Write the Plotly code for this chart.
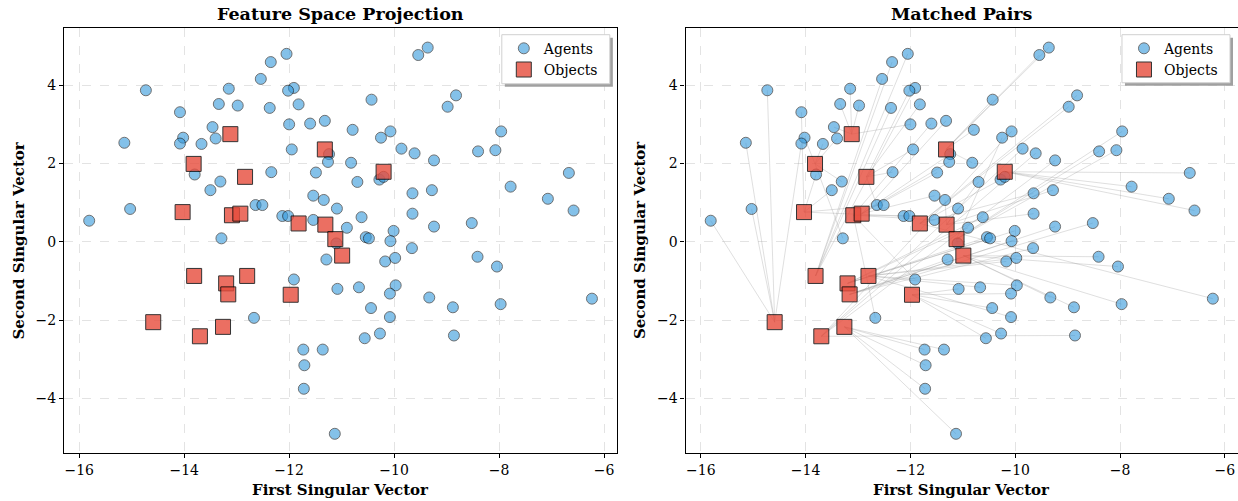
import plotly.graph_objects as go

# ---- data ----
agent_x = [-15.81, -15.14, -15.03, -14.73, -14.08, -14.02, -14.08, -13.67, -13.46, -13.40,
           -13.34, -13.15, -12.98, -13.80, -13.31, -13.50, -13.29, -12.05, -12.35, -12.54,
           -11.91, -12.02, -12.37, -11.82, -12.00, -11.60, -11.32, -10.43, -9.54, -9.36,
           -10.79, -10.25, -10.07, -9.86, -9.61, -9.24, -11.95, -11.24, -11.26, -10.82,
           -12.34, -11.49, -10.70, -10.28, -10.20, -9.65, -9.28, -12.64, -12.51, -11.54,
           -11.34, -11.09, -12.13, -12.02, -11.54, -10.90, -10.62, -10.54, -10.48, -10.01,
           -10.07, -9.65, -9.24, -8.82, -8.98, -7.96, -8.40, -8.07, -7.78, -6.67,
           -7.07, -6.58, -8.52, -12.67, -11.10, -9.66, -11.29, -10.17, -9.98, -11.91,
           -11.08, -10.67, -9.97, -10.08, -9.33, -10.44, -10.08, -10.27, -10.56, -11.73,
           -11.36, -11.71, -11.72, -11.13, -8.41, -8.04, -8.88, -7.97, -6.23, -8.86]
agent_y = [0.54, 2.53, 0.84, 3.87, 3.31, 2.66, 2.51, 2.50, 2.93, 2.64,
           3.52, 3.91, 3.48, 1.72, 1.54, 1.32, 0.09, 4.80, 4.59, 4.16,
           3.93, 3.86, 3.42, 3.51, 3.00, 3.02, 3.09, 3.63, 4.77, 4.96,
           2.86, 2.66, 2.82, 2.38, 2.26, 2.08, 2.36, 2.24, 2.04, 2.02,
           1.78, 1.77, 1.53, 1.59, 1.66, 1.24, 1.32, 0.94, 0.94, 1.18,
           1.07, 0.85, 0.66, 0.66, 0.56, 0.36, 0.63, 0.12, 0.09, 0.28,
           0.02, 0.72, 0.39, 3.74, 3.45, 2.82, 2.31, 2.34, 1.41, 1.76,
           1.10, 0.80, 0.48, -1.94, -0.04, -0.16, -0.45, -0.50, -0.41, -0.96,
           -1.20, -1.16, -1.11, -1.32, -1.42, -1.69, -1.92, -2.34, -2.46, -2.75,
           -2.75, -3.15, -3.75, -4.90, -0.38, -0.63, -1.67, -1.59, -1.45, -2.39]

object_x = [-13.12, -13.82, -12.84, -14.03, -13.09, -12.93, -11.32, -10.20, -11.82, -11.31,
            -11.12, -10.99, -11.97, -13.81, -13.20, -13.16, -12.80, -14.59, -13.26, -13.70]
object_y = [2.75, 1.99, 1.66, 0.76, 0.68, 0.72, 2.36, 1.79, 0.47, 0.44,
            0.07, -0.35, -1.35, -0.87, -1.06, -1.34, -0.87, -2.05, -2.17, -2.41]

# object index matched to each agent (right panel)
match = [17, 17, 17, 17, 3, 1, 17, 1, 0, 1,
         0, 0, 0, 3, 1, 3, 1, 13, 13, 13,
         13, 2, 13, 2, 0, 4, 5, 6, 6, 6,
         6, 10, 19, 19, 19, 19, 2, 5, 5, 6,
         2, 5, 9, 8, 7, 8, 9, 2, 3, 5,
         9, 9, 3, 4, 4, 14, 14, 14, 14, 14,
         15, 9, 15, 8, 8, 10, 10, 10, 7, 7,
         7, 7, 15, 4, 10, 15, 15, 16, 16, 4,
         12, 16, 16, 12, 11, 12, 16, 12, 12, 18,
         18, 18, 18, 18, 11, 11, 11, 11, 8, 19]

x_ticks = [-16, -14, -12, -10, -8, -6]
y_ticks = [-4, -2, 0, 2, 4]
x_range = [-16.29, -5.75]
y_range = [-5.39, 5.46]

FONT = "DejaVu Serif"
AG_COL = "#3498db"
OB_COL = "#e74c3c"

fig = go.Figure()

# matched pair lines (right panel)
lx, ly = [], []
for i, j in enumerate(match):
    lx += [agent_x[i], object_x[j], None]
    ly += [agent_y[i], object_y[j], None]
fig.add_trace(go.Scatter(x=lx, y=ly, mode="lines", xaxis="x2", yaxis="y2",
                         line=dict(color="rgba(150,150,150,0.38)", width=0.8),
                         showlegend=False, hoverinfo="skip"))

for ax, lg in (("", "legend"), ("2", "legend2")):
    fig.add_trace(go.Scatter(x=agent_x, y=agent_y, mode="markers", name="Agents",
                             xaxis="x" + ax, yaxis="y" + ax, legend=lg,
                             marker=dict(symbol="circle", size=11, color=AG_COL, opacity=0.6,
                                         line=dict(color="black", width=0.9))))
    fig.add_trace(go.Scatter(x=object_x, y=object_y, mode="markers", name="Objects",
                             xaxis="x" + ax, yaxis="y" + ax, legend=lg,
                             marker=dict(symbol="square", size=15, color=OB_COL, opacity=0.8,
                                         line=dict(color="black", width=1))))

W, H = 1238, 501
ml, mr, mt, mb = 64.3, 0, 28.3, 48.3
pw = W - ml - mr
ph = H - mt - mb
d1 = [0, 553 / pw]
d2 = [(685.7 - ml) / pw, 1.0]


def px_x(p):
    return (p - ml) / pw


def px_y(p):
    return 1 - (p - mt) / ph


axis_common = dict(
    showline=True, linecolor="black", linewidth=1.2, mirror=True,
    ticks="outside", ticklen=4, tickwidth=1, tickcolor="black",
    showgrid=True, gridcolor="#e3e3e3", griddash="dash", gridwidth=1,
    zeroline=False, automargin=False,
    tickfont=dict(family=FONT, size=14, color="black"),
)

tfont = dict(family=FONT, size=17.5, color="black")
lfont = dict(family=FONT, size=15, color="black")

annotations = []
for dom, title in ((d1, "Feature Space Projection"), (d2, "Matched Pairs")):
    cx = (dom[0] + dom[1]) / 2
    annotations.append(dict(text="<b>%s</b>" % title, x=cx, y=1, xref="paper", yref="paper",
                            xanchor="center", yanchor="middle", yshift=14, showarrow=False, font=tfont))
    annotations.append(dict(text="<b>First Singular Vector</b>", x=cx, y=0, xref="paper", yref="paper",
                            xanchor="center", yanchor="middle", yshift=-37, showarrow=False, font=lfont))
    annotations.append(dict(text="<b>Second Singular Vector</b>", x=dom[0], y=0.5, xref="paper", yref="paper",
                            xanchor="center", yanchor="middle", xshift=-46, textangle=-90,
                            showarrow=False, font=lfont))

# legend frames with drop shadow (reference pixel boxes)
shapes = []
for x0, x1, y0, y1 in ((502, 610, 35, 84), (1122, 1230, 35, 83)):
    shapes.append(dict(type="rect", xref="paper", yref="paper", layer="above",
                       x0=px_x(x0 + 3), x1=px_x(x1 + 3), y0=px_y(y1 + 3), y1=px_y(y0 + 3),
                       fillcolor="#a0a0a0", line=dict(width=0)))
    shapes.append(dict(type="rect", xref="paper", yref="paper", layer="above",
                       x0=px_x(x0), x1=px_x(x1), y0=px_y(y1), y1=px_y(y0),
                       fillcolor="white", line=dict(color="#d0d0d0", width=1)))

legend_common = dict(yanchor="top", xanchor="left", bgcolor="rgba(0,0,0,0)", borderwidth=0,
                     font=dict(family=FONT, size=14, color="black"), itemwidth=30)

fig.update_layout(
    width=W, height=H, margin=dict(l=ml, r=mr, t=mt, b=mb, autoexpand=False),
    paper_bgcolor="white", plot_bgcolor="white",
    xaxis=dict(domain=d1, range=x_range, tickvals=x_ticks, anchor="y", **axis_common),
    yaxis=dict(domain=[0, 1], range=y_range, tickvals=y_ticks, anchor="x", **axis_common),
    xaxis2=dict(domain=d2, range=x_range, tickvals=x_ticks, anchor="y2", **axis_common),
    yaxis2=dict(domain=[0, 1], range=y_range, tickvals=y_ticks, anchor="x2", **axis_common),
    legend=dict(x=px_x(504), y=px_y(33), **legend_common),
    legend2=dict(x=px_x(1124), y=px_y(33), **legend_common),
    annotations=annotations,
    shapes=shapes,
    showlegend=True,
)

fig.write_html("out.html", config={"displayModeBar": False},
               post_script="document.body.style.margin='0';document.body.style.padding='0';"
                           "document.documentElement.style.overflow='hidden';")
